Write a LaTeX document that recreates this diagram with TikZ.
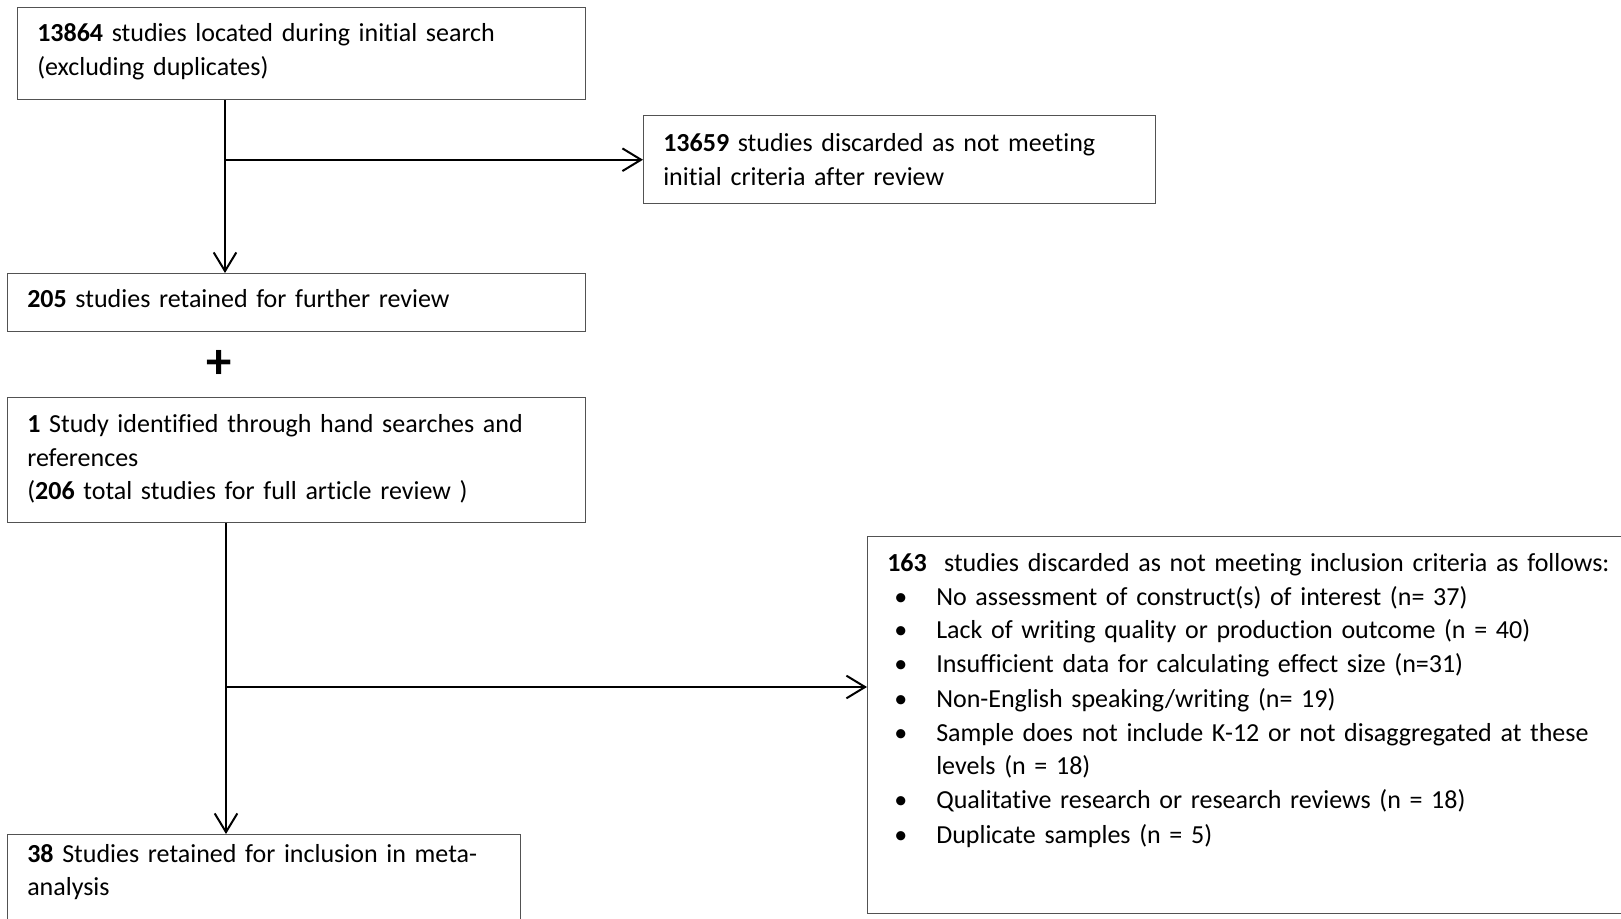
\documentclass[tikz,border=0pt]{standalone}
\usepackage{fontspec}
\setmainfont{Carlito}[Ligatures=CommonOff]
\usetikzlibrary{arrows.meta}
\tikzset{
  box/.style={draw=black!68, line width=1.1pt, rectangle, inner sep=0pt, anchor=north west},
  txt/.style={anchor=base west, inner sep=0pt, text width=600pt, align=left,
              font=\fontsize{19.5pt}{25pt}\selectfont},
  arr/.style={draw=black, line width=1.6pt, -{Straight Barb[length=14pt,width=17pt,line width=1.5pt]}},
  lin/.style={draw=black, line width=1.6pt}
}
\newcommand{\bitem}[1]{\hspace*{5.25pt}\makebox[31.5pt][l]{\textbullet}#1}
\begin{document}
\begin{tikzpicture}[x=0.75pt,y=-0.75pt]
\clip (0,0) rectangle (1621,919);
\fill[white] (0,0) rectangle (1621,919);
% boxes
\node[box, minimum width=426pt, minimum height=69pt] (b1) at (17,7) {};
\node[box, minimum width=384pt, minimum height=66pt] (b2) at (643,115) {};
\node[box, minimum width=433.5pt, minimum height=43.5pt] (b3) at (7,273) {};
\node[box, minimum width=433.5pt, minimum height=93.75pt] (b4) at (7,397) {};
\node[box, minimum width=600pt, minimum height=282.75pt] (b5) at (867,536) {};
\node[box, minimum width=384.75pt, minimum height=90pt] (b6) at (7,834) {};
% texts
\node[txt] (t1) at (37,42) {\textbf{13864} studies located during initial search\\(excluding duplicates)};
\node[txt] (t2) at (663,152) {\textbf{13659} studies discarded as not meeting\\initial criteria after review};
\node[txt] (t3) at (27,308) {\textbf{205} studies retained for further review};
\node[font=\fontsize{38pt}{38pt}\selectfont\bfseries, inner sep=0pt] (plus) at (219,364) {+};
\node[txt] (t4) at (27,433) {\textbf{1} Study identified through hand searches and\\references\\(\textbf{206} total studies for full article review )};
\node[txt, font=\fontsize{19.5pt}{25.5pt}\selectfont] (t5) at (887,571) {\textbf{163}\ \ studies discarded as not meeting inclusion criteria as follows:\\
\bitem{No assessment of construct(s) of interest (n= 37)}\\
\bitem{Lack of writing quality or production outcome (n = 40)}\\
\bitem{Insufficient data for calculating effect size (n=31)}\\
\bitem{Non-English speaking/writing (n= 19)}\\
\bitem{Sample does not include K-12 or not disaggregated at these}\\
\hspace*{36.75pt}levels (n = 18)\\
\bitem{Qualitative research or research reviews (n = 18)}\\
\bitem{Duplicate samples (n = 5)}};
\node[txt] (t6) at (27,862) {\textbf{38} Studies retained for inclusion in meta-\\analysis};
% connectors
\coordinate (v1) at (225,0);
\coordinate (v2) at (226,0);
\coordinate (h2) at (0,687);
\draw[arr] (b1.south -| v1) -- (b3.north -| v1);
\draw[arr] (b2.west -| v1) -- (b2.west);
\draw[arr] (b4.south -| v2) -- (b6.north -| v2);
\draw[arr] (v2 |- h2) -- (b5.west |- h2);
\end{tikzpicture}
\end{document}
